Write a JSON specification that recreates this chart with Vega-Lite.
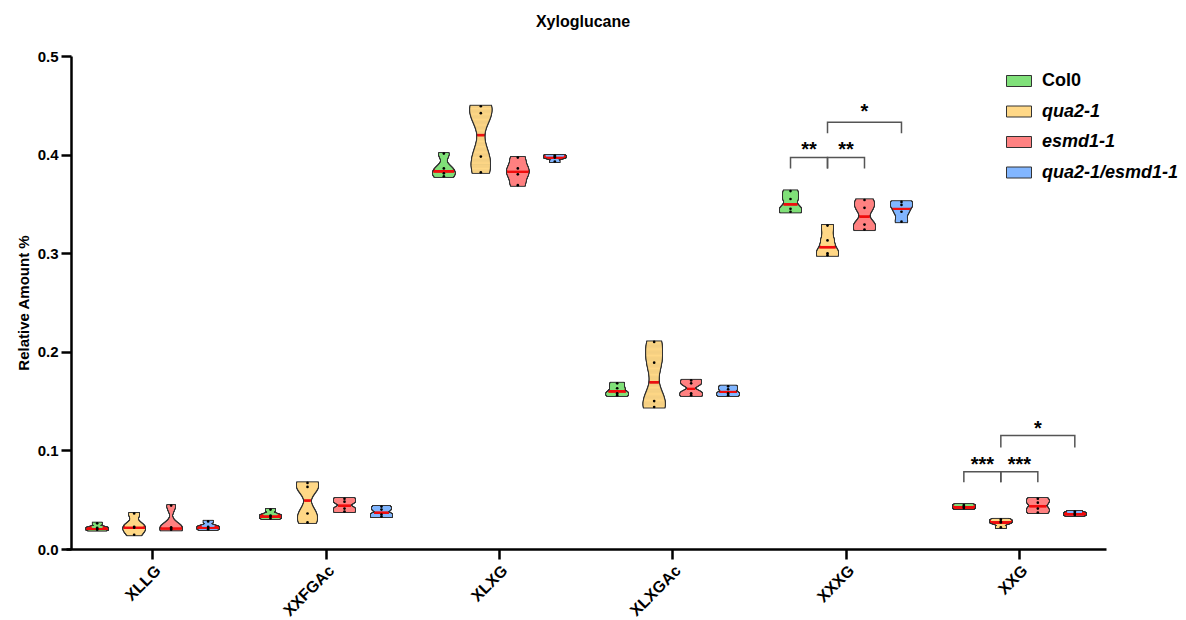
{
"$schema":"https://vega.github.io/schema/vega-lite/v6.json",
"width":1040,"height":493,
"autosize":{"type":"none"},
"padding":{"left":66,"top":56,"right":80,"bottom":71},
"config":{"font":"Liberation Sans","view":{"stroke":null}},
"title":{"text":"Xyloglucane","fontSize":16,"fontWeight":"bold","color":"black","anchor":"middle","dx":-3,"offset":19},
"datasets":{
"d":[
{"c":"XLLG","g":"Col0","v":0.0195},{"c":"XLLG","g":"Col0","v":0.0205},{"c":"XLLG","g":"Col0","v":0.0215},{"c":"XLLG","g":"Col0","v":0.026},
{"c":"XLLG","g":"qua2-1","v":0.0145},{"c":"XLLG","g":"qua2-1","v":0.0215},{"c":"XLLG","g":"qua2-1","v":0.0225},{"c":"XLLG","g":"qua2-1","v":0.036},
{"c":"XLLG","g":"esmd1-1","v":0.0195},{"c":"XLLG","g":"esmd1-1","v":0.0205},{"c":"XLLG","g":"esmd1-1","v":0.022},{"c":"XLLG","g":"esmd1-1","v":0.044},
{"c":"XLLG","g":"qua2-1/esmd1-1","v":0.020},{"c":"XLLG","g":"qua2-1/esmd1-1","v":0.0215},{"c":"XLLG","g":"qua2-1/esmd1-1","v":0.0225},{"c":"XLLG","g":"qua2-1/esmd1-1","v":0.028},
{"c":"XXFGAc","g":"Col0","v":0.031},{"c":"XXFGAc","g":"Col0","v":0.033},{"c":"XXFGAc","g":"Col0","v":0.034},{"c":"XXFGAc","g":"Col0","v":0.040},
{"c":"XXFGAc","g":"qua2-1","v":0.027},{"c":"XXFGAc","g":"qua2-1","v":0.036},{"c":"XXFGAc","g":"qua2-1","v":0.063},{"c":"XXFGAc","g":"qua2-1","v":0.067},
{"c":"XXFGAc","g":"esmd1-1","v":0.038},{"c":"XXFGAc","g":"esmd1-1","v":0.041},{"c":"XXFGAc","g":"esmd1-1","v":0.048},{"c":"XXFGAc","g":"esmd1-1","v":0.051},
{"c":"XXFGAc","g":"qua2-1/esmd1-1","v":0.033},{"c":"XXFGAc","g":"qua2-1/esmd1-1","v":0.035},{"c":"XXFGAc","g":"qua2-1/esmd1-1","v":0.040},{"c":"XXFGAc","g":"qua2-1/esmd1-1","v":0.043},
{"c":"XLXG","g":"Col0","v":0.378},{"c":"XLXG","g":"Col0","v":0.381},{"c":"XLXG","g":"Col0","v":0.386},{"c":"XLXG","g":"Col0","v":0.401},
{"c":"XLXG","g":"qua2-1","v":0.382},{"c":"XLXG","g":"qua2-1","v":0.398},{"c":"XLXG","g":"qua2-1","v":0.442},{"c":"XLXG","g":"qua2-1","v":0.449},
{"c":"XLXG","g":"esmd1-1","v":0.369},{"c":"XLXG","g":"esmd1-1","v":0.380},{"c":"XLXG","g":"esmd1-1","v":0.386},{"c":"XLXG","g":"esmd1-1","v":0.397},
{"c":"XLXG","g":"qua2-1/esmd1-1","v":0.393},{"c":"XLXG","g":"qua2-1/esmd1-1","v":0.397},{"c":"XLXG","g":"qua2-1/esmd1-1","v":0.398},{"c":"XLXG","g":"qua2-1/esmd1-1","v":0.399},
{"c":"XLXGAc","g":"Col0","v":0.156},{"c":"XLXGAc","g":"Col0","v":0.158},{"c":"XLXGAc","g":"Col0","v":0.163},{"c":"XLXGAc","g":"Col0","v":0.168},
{"c":"XLXGAc","g":"qua2-1","v":0.144},{"c":"XLXGAc","g":"qua2-1","v":0.150},{"c":"XLXGAc","g":"qua2-1","v":0.189},{"c":"XLXGAc","g":"qua2-1","v":0.210},
{"c":"XLXGAc","g":"esmd1-1","v":0.156},{"c":"XLXGAc","g":"esmd1-1","v":0.158},{"c":"XLXGAc","g":"esmd1-1","v":0.168},{"c":"XLXGAc","g":"esmd1-1","v":0.171},
{"c":"XLXGAc","g":"qua2-1/esmd1-1","v":0.156},{"c":"XLXGAc","g":"qua2-1/esmd1-1","v":0.158},{"c":"XLXGAc","g":"qua2-1/esmd1-1","v":0.162},{"c":"XLXGAc","g":"qua2-1/esmd1-1","v":0.165},
{"c":"XXXG","g":"Col0","v":0.342},{"c":"XXXG","g":"Col0","v":0.345},{"c":"XXXG","g":"Col0","v":0.355},{"c":"XXXG","g":"Col0","v":0.363},
{"c":"XXXG","g":"qua2-1","v":0.298},{"c":"XXXG","g":"qua2-1","v":0.300},{"c":"XXXG","g":"qua2-1","v":0.313},{"c":"XXXG","g":"qua2-1","v":0.328},
{"c":"XXXG","g":"esmd1-1","v":0.324},{"c":"XXXG","g":"esmd1-1","v":0.329},{"c":"XXXG","g":"esmd1-1","v":0.346},{"c":"XXXG","g":"esmd1-1","v":0.354},
{"c":"XXXG","g":"qua2-1/esmd1-1","v":0.332},{"c":"XXXG","g":"qua2-1/esmd1-1","v":0.342},{"c":"XXXG","g":"qua2-1/esmd1-1","v":0.349},{"c":"XXXG","g":"qua2-1/esmd1-1","v":0.352},
{"c":"XXG","g":"Col0","v":0.0415},{"c":"XXG","g":"Col0","v":0.0425},{"c":"XXG","g":"Col0","v":0.0435},{"c":"XXG","g":"Col0","v":0.0445},
{"c":"XXG","g":"qua2-1","v":0.022},{"c":"XXG","g":"qua2-1","v":0.027},{"c":"XXG","g":"qua2-1","v":0.028},{"c":"XXG","g":"qua2-1","v":0.030},
{"c":"XXG","g":"esmd1-1","v":0.037},{"c":"XXG","g":"esmd1-1","v":0.041},{"c":"XXG","g":"esmd1-1","v":0.047},{"c":"XXG","g":"esmd1-1","v":0.051},
{"c":"XXG","g":"qua2-1/esmd1-1","v":0.0345},{"c":"XXG","g":"qua2-1/esmd1-1","v":0.0355},{"c":"XXG","g":"qua2-1/esmd1-1","v":0.0365},{"c":"XXG","g":"qua2-1/esmd1-1","v":0.038}
],
"br":[
{"c":"XXXG","g":"Col0","v":0.386,"b":"x1","o":1},{"c":"XXXG","g":"Col0","v":0.397,"b":"x1","o":2},{"c":"XXXG","g":"qua2-1","v":0.397,"b":"x1","o":3},{"c":"XXXG","g":"qua2-1","v":0.386,"b":"x1","o":4},
{"c":"XXXG","g":"qua2-1","v":0.386,"b":"x2","o":1},{"c":"XXXG","g":"qua2-1","v":0.397,"b":"x2","o":2},{"c":"XXXG","g":"esmd1-1","v":0.397,"b":"x2","o":3},{"c":"XXXG","g":"esmd1-1","v":0.386,"b":"x2","o":4},
{"c":"XXXG","g":"qua2-1","v":0.4216,"b":"x3","o":1},{"c":"XXXG","g":"qua2-1","v":0.4328,"b":"x3","o":2},{"c":"XXXG","g":"qua2-1/esmd1-1","v":0.4328,"b":"x3","o":3},{"c":"XXXG","g":"qua2-1/esmd1-1","v":0.4216,"b":"x3","o":4},
{"c":"XXG","g":"Col0","v":0.0676,"b":"y1","o":1},{"c":"XXG","g":"Col0","v":0.0784,"b":"y1","o":2},{"c":"XXG","g":"qua2-1","v":0.0784,"b":"y1","o":3},{"c":"XXG","g":"qua2-1","v":0.0676,"b":"y1","o":4},
{"c":"XXG","g":"qua2-1","v":0.0676,"b":"y2","o":1},{"c":"XXG","g":"qua2-1","v":0.0784,"b":"y2","o":2},{"c":"XXG","g":"esmd1-1","v":0.0784,"b":"y2","o":3},{"c":"XXG","g":"esmd1-1","v":0.0676,"b":"y2","o":4},
{"c":"XXG","g":"qua2-1","v":0.103,"b":"y3","o":1},{"c":"XXG","g":"qua2-1","v":0.115,"b":"y3","o":2},{"c":"XXG","g":"qua2-1/esmd1-1","v":0.115,"b":"y3","o":3},{"c":"XXG","g":"qua2-1/esmd1-1","v":0.103,"b":"y3","o":4}
],
"ann":[
{"c":"XXXG","g":"a","v":0.3986,"t":"**"},{"c":"XXXG","g":"b","v":0.3986,"t":"**"},{"c":"XXXG","g":"esmd1-1","v":0.4376,"t":"*"},
{"c":"XXG","g":"a","v":0.0791,"t":"***"},{"c":"XXG","g":"b","v":0.0791,"t":"***"},{"c":"XXG","g":"esmd1-1","v":0.1161,"t":"*"}
]
},
"data":{"name":"d"},
"encoding":{
"x":{"field":"c","type":"nominal","scale":{"domain":["XLLG","XXFGAc","XLXG","XLXGAc","XXXG","XXG"],"paddingInner":0,"paddingOuter":0},
"axis":{"title":null,"labelAngle":-45,"labelFontSize":16,"labelFontWeight":"bold","labelColor":"black","domainColor":"black","domainWidth":2.5,"tickColor":"black","tickWidth":2.5,"tickSize":10,"labelPadding":3,"grid":false}},
"xOffset":{"field":"g","type":"nominal","scale":{"type":"point","domain":["p0","Col0","a","qua2-1","b","esmd1-1","c","qua2-1/esmd1-1","p1"],"padding":0.686}},
"y":{"field":"v","type":"quantitative","scale":{"domain":[0,0.5],"nice":false,"zero":true},
"axis":{"title":"Relative Amount %","titleFontSize":15,"titleFontWeight":"bold","titleColor":"black","titlePadding":6,"values":[0,0.1,0.2,0.3,0.4,0.5],"format":".1f","labelFontSize":15,"labelFontWeight":"bold","labelColor":"black","domainColor":"black","domainWidth":2.5,"tickColor":"black","tickWidth":2.5,"tickSize":10,"labelPadding":3,"grid":false,"offset":-5}},
"color":{"condition":{"test":"abs(datum.v-datum.med)<0.0013","value":"#f01010"},"field":"g","type":"nominal",
"scale":{"domain":["Col0","qua2-1","esmd1-1","qua2-1/esmd1-1"],"range":["#80e07a","#ffd887","#ff8282","#82b6ff"]},
"legend":{"title":null,"orient":"none","legendX":940,"legendY":12,"symbolType":"M-1,-0.44H1V0.44H-1Z","symbolSize":625,"symbolStrokeColor":"#333","symbolStrokeWidth":1,"symbolOpacity":1,"labelFontSize":18,"labelFontWeight":"bold","labelFontStyle":{"expr":"datum.label === 'Col0' ? 'normal' : 'italic'"},"labelColor":"black","labelOffset":10,"rowPadding":8.5,"padding":0}}
},
"layer":[
{"transform":[{"filter":"datum.c==='XLLG'&&datum.g==='Col0'"},{"joinaggregate":[{"op":"median","field":"v","as":"med"}]},{"density":"v","groupby":["c","g","med"],"bandwidth":0.0013,"steps":120,"as":["v","d"]}],"layer":[{"mark":{"type":"tick","thickness":3,"opacity":1},"encoding":{"color":{"value":"#333"},"size":{"field":"d","type":"quantitative","scale":{"zero":true,"range":[2,23]},"legend":null}}},{"mark":{"type":"tick","thickness":1,"opacity":1},"encoding":{"size":{"field":"d","type":"quantitative","scale":{"zero":true,"range":[0,21]},"legend":null}}}],"resolve":{"scale":{"size":"independent"}}},
{"transform":[{"filter":"datum.c==='XLLG'&&datum.g==='qua2-1'"},{"joinaggregate":[{"op":"median","field":"v","as":"med"}]},{"density":"v","groupby":["c","g","med"],"bandwidth":0.0043,"steps":120,"as":["v","d"]}],"layer":[{"mark":{"type":"tick","thickness":3,"opacity":1},"encoding":{"color":{"value":"#333"},"size":{"field":"d","type":"quantitative","scale":{"zero":true,"range":[2,23]},"legend":null}}},{"mark":{"type":"tick","thickness":1,"opacity":1},"encoding":{"size":{"field":"d","type":"quantitative","scale":{"zero":true,"range":[0,21]},"legend":null}}}],"resolve":{"scale":{"size":"independent"}}},
{"transform":[{"filter":"datum.c==='XLLG'&&datum.g==='esmd1-1'"},{"joinaggregate":[{"op":"median","field":"v","as":"med"}]},{"density":"v","groupby":["c","g","med"],"bandwidth":0.0049,"steps":120,"as":["v","d"]}],"layer":[{"mark":{"type":"tick","thickness":3,"opacity":1},"encoding":{"color":{"value":"#333"},"size":{"field":"d","type":"quantitative","scale":{"zero":true,"range":[2,23]},"legend":null}}},{"mark":{"type":"tick","thickness":1,"opacity":1},"encoding":{"size":{"field":"d","type":"quantitative","scale":{"zero":true,"range":[0,21]},"legend":null}}}],"resolve":{"scale":{"size":"independent"}}},
{"transform":[{"filter":"datum.c==='XLLG'&&datum.g==='qua2-1/esmd1-1'"},{"joinaggregate":[{"op":"median","field":"v","as":"med"}]},{"density":"v","groupby":["c","g","med"],"bandwidth":0.0016,"steps":120,"as":["v","d"]}],"layer":[{"mark":{"type":"tick","thickness":3,"opacity":1},"encoding":{"color":{"value":"#333"},"size":{"field":"d","type":"quantitative","scale":{"zero":true,"range":[2,23]},"legend":null}}},{"mark":{"type":"tick","thickness":1,"opacity":1},"encoding":{"size":{"field":"d","type":"quantitative","scale":{"zero":true,"range":[0,21]},"legend":null}}}],"resolve":{"scale":{"size":"independent"}}},
{"transform":[{"filter":"datum.c==='XXFGAc'&&datum.g==='Col0'"},{"joinaggregate":[{"op":"median","field":"v","as":"med"}]},{"density":"v","groupby":["c","g","med"],"bandwidth":0.0018,"steps":120,"as":["v","d"]}],"layer":[{"mark":{"type":"tick","thickness":3,"opacity":1},"encoding":{"color":{"value":"#333"},"size":{"field":"d","type":"quantitative","scale":{"zero":true,"range":[2,23]},"legend":null}}},{"mark":{"type":"tick","thickness":1,"opacity":1},"encoding":{"size":{"field":"d","type":"quantitative","scale":{"zero":true,"range":[0,21]},"legend":null}}}],"resolve":{"scale":{"size":"independent"}}},
{"transform":[{"filter":"datum.c==='XXFGAc'&&datum.g==='qua2-1'"},{"joinaggregate":[{"op":"median","field":"v","as":"med"}]},{"density":"v","groupby":["c","g","med"],"bandwidth":0.008,"steps":120,"as":["v","d"]}],"layer":[{"mark":{"type":"tick","thickness":3,"opacity":1},"encoding":{"color":{"value":"#333"},"size":{"field":"d","type":"quantitative","scale":{"zero":true,"range":[2,23]},"legend":null}}},{"mark":{"type":"tick","thickness":1,"opacity":1},"encoding":{"size":{"field":"d","type":"quantitative","scale":{"zero":true,"range":[0,21]},"legend":null}}}],"resolve":{"scale":{"size":"independent"}}},
{"transform":[{"filter":"datum.c==='XXFGAc'&&datum.g==='esmd1-1'"},{"joinaggregate":[{"op":"median","field":"v","as":"med"}]},{"density":"v","groupby":["c","g","med"],"bandwidth":0.0026,"steps":120,"as":["v","d"]}],"layer":[{"mark":{"type":"tick","thickness":3,"opacity":1},"encoding":{"color":{"value":"#333"},"size":{"field":"d","type":"quantitative","scale":{"zero":true,"range":[2,23]},"legend":null}}},{"mark":{"type":"tick","thickness":1,"opacity":1},"encoding":{"size":{"field":"d","type":"quantitative","scale":{"zero":true,"range":[0,21]},"legend":null}}}],"resolve":{"scale":{"size":"independent"}}},
{"transform":[{"filter":"datum.c==='XXFGAc'&&datum.g==='qua2-1/esmd1-1'"},{"joinaggregate":[{"op":"median","field":"v","as":"med"}]},{"density":"v","groupby":["c","g","med"],"bandwidth":0.002,"steps":120,"as":["v","d"]}],"layer":[{"mark":{"type":"tick","thickness":3,"opacity":1},"encoding":{"color":{"value":"#333"},"size":{"field":"d","type":"quantitative","scale":{"zero":true,"range":[2,23]},"legend":null}}},{"mark":{"type":"tick","thickness":1,"opacity":1},"encoding":{"size":{"field":"d","type":"quantitative","scale":{"zero":true,"range":[0,21]},"legend":null}}}],"resolve":{"scale":{"size":"independent"}}},
{"transform":[{"filter":"datum.c==='XLXG'&&datum.g==='Col0'"},{"joinaggregate":[{"op":"median","field":"v","as":"med"}]},{"density":"v","groupby":["c","g","med"],"bandwidth":0.0046,"steps":120,"as":["v","d"]}],"layer":[{"mark":{"type":"tick","thickness":3,"opacity":1},"encoding":{"color":{"value":"#333"},"size":{"field":"d","type":"quantitative","scale":{"zero":true,"range":[2,23]},"legend":null}}},{"mark":{"type":"tick","thickness":1,"opacity":1},"encoding":{"size":{"field":"d","type":"quantitative","scale":{"zero":true,"range":[0,21]},"legend":null}}}],"resolve":{"scale":{"size":"independent"}}},
{"transform":[{"filter":"datum.c==='XLXG'&&datum.g==='qua2-1'"},{"joinaggregate":[{"op":"median","field":"v","as":"med"}]},{"density":"v","groupby":["c","g","med"],"bandwidth":0.0134,"steps":120,"as":["v","d"]}],"layer":[{"mark":{"type":"tick","thickness":3,"opacity":1},"encoding":{"color":{"value":"#333"},"size":{"field":"d","type":"quantitative","scale":{"zero":true,"range":[2,23]},"legend":null}}},{"mark":{"type":"tick","thickness":1,"opacity":1},"encoding":{"size":{"field":"d","type":"quantitative","scale":{"zero":true,"range":[0,21]},"legend":null}}}],"resolve":{"scale":{"size":"independent"}}},
{"transform":[{"filter":"datum.c==='XLXG'&&datum.g==='esmd1-1'"},{"joinaggregate":[{"op":"median","field":"v","as":"med"}]},{"density":"v","groupby":["c","g","med"],"bandwidth":0.0056,"steps":120,"as":["v","d"]}],"layer":[{"mark":{"type":"tick","thickness":3,"opacity":1},"encoding":{"color":{"value":"#333"},"size":{"field":"d","type":"quantitative","scale":{"zero":true,"range":[2,23]},"legend":null}}},{"mark":{"type":"tick","thickness":1,"opacity":1},"encoding":{"size":{"field":"d","type":"quantitative","scale":{"zero":true,"range":[0,21]},"legend":null}}}],"resolve":{"scale":{"size":"independent"}}},
{"transform":[{"filter":"datum.c==='XLXG'&&datum.g==='qua2-1/esmd1-1'"},{"joinaggregate":[{"op":"median","field":"v","as":"med"}]},{"density":"v","groupby":["c","g","med"],"bandwidth":0.0012,"steps":120,"as":["v","d"]}],"layer":[{"mark":{"type":"tick","thickness":3,"opacity":1},"encoding":{"color":{"value":"#333"},"size":{"field":"d","type":"quantitative","scale":{"zero":true,"range":[2,23]},"legend":null}}},{"mark":{"type":"tick","thickness":1,"opacity":1},"encoding":{"size":{"field":"d","type":"quantitative","scale":{"zero":true,"range":[0,21]},"legend":null}}}],"resolve":{"scale":{"size":"independent"}}},
{"transform":[{"filter":"datum.c==='XLXGAc'&&datum.g==='Col0'"},{"joinaggregate":[{"op":"median","field":"v","as":"med"}]},{"density":"v","groupby":["c","g","med"],"bandwidth":0.0024,"steps":120,"as":["v","d"]}],"layer":[{"mark":{"type":"tick","thickness":3,"opacity":1},"encoding":{"color":{"value":"#333"},"size":{"field":"d","type":"quantitative","scale":{"zero":true,"range":[2,23]},"legend":null}}},{"mark":{"type":"tick","thickness":1,"opacity":1},"encoding":{"size":{"field":"d","type":"quantitative","scale":{"zero":true,"range":[0,21]},"legend":null}}}],"resolve":{"scale":{"size":"independent"}}},
{"transform":[{"filter":"datum.c==='XLXGAc'&&datum.g==='qua2-1'"},{"joinaggregate":[{"op":"median","field":"v","as":"med"}]},{"density":"v","groupby":["c","g","med"],"bandwidth":0.0132,"steps":120,"as":["v","d"]}],"layer":[{"mark":{"type":"tick","thickness":3,"opacity":1},"encoding":{"color":{"value":"#333"},"size":{"field":"d","type":"quantitative","scale":{"zero":true,"range":[2,23]},"legend":null}}},{"mark":{"type":"tick","thickness":1,"opacity":1},"encoding":{"size":{"field":"d","type":"quantitative","scale":{"zero":true,"range":[0,21]},"legend":null}}}],"resolve":{"scale":{"size":"independent"}}},
{"transform":[{"filter":"datum.c==='XLXGAc'&&datum.g==='esmd1-1'"},{"joinaggregate":[{"op":"median","field":"v","as":"med"}]},{"density":"v","groupby":["c","g","med"],"bandwidth":0.003,"steps":120,"as":["v","d"]}],"layer":[{"mark":{"type":"tick","thickness":3,"opacity":1},"encoding":{"color":{"value":"#333"},"size":{"field":"d","type":"quantitative","scale":{"zero":true,"range":[2,23]},"legend":null}}},{"mark":{"type":"tick","thickness":1,"opacity":1},"encoding":{"size":{"field":"d","type":"quantitative","scale":{"zero":true,"range":[0,21]},"legend":null}}}],"resolve":{"scale":{"size":"independent"}}},
{"transform":[{"filter":"datum.c==='XLXGAc'&&datum.g==='qua2-1/esmd1-1'"},{"joinaggregate":[{"op":"median","field":"v","as":"med"}]},{"density":"v","groupby":["c","g","med"],"bandwidth":0.0018,"steps":120,"as":["v","d"]}],"layer":[{"mark":{"type":"tick","thickness":3,"opacity":1},"encoding":{"color":{"value":"#333"},"size":{"field":"d","type":"quantitative","scale":{"zero":true,"range":[2,23]},"legend":null}}},{"mark":{"type":"tick","thickness":1,"opacity":1},"encoding":{"size":{"field":"d","type":"quantitative","scale":{"zero":true,"range":[0,21]},"legend":null}}}],"resolve":{"scale":{"size":"independent"}}},
{"transform":[{"filter":"datum.c==='XXXG'&&datum.g==='Col0'"},{"joinaggregate":[{"op":"median","field":"v","as":"med"}]},{"density":"v","groupby":["c","g","med"],"bandwidth":0.0042,"steps":120,"as":["v","d"]}],"layer":[{"mark":{"type":"tick","thickness":3,"opacity":1},"encoding":{"color":{"value":"#333"},"size":{"field":"d","type":"quantitative","scale":{"zero":true,"range":[2,23]},"legend":null}}},{"mark":{"type":"tick","thickness":1,"opacity":1},"encoding":{"size":{"field":"d","type":"quantitative","scale":{"zero":true,"range":[0,21]},"legend":null}}}],"resolve":{"scale":{"size":"independent"}}},
{"transform":[{"filter":"datum.c==='XXXG'&&datum.g==='qua2-1'"},{"joinaggregate":[{"op":"median","field":"v","as":"med"}]},{"density":"v","groupby":["c","g","med"],"bandwidth":0.006,"steps":120,"as":["v","d"]}],"layer":[{"mark":{"type":"tick","thickness":3,"opacity":1},"encoding":{"color":{"value":"#333"},"size":{"field":"d","type":"quantitative","scale":{"zero":true,"range":[2,23]},"legend":null}}},{"mark":{"type":"tick","thickness":1,"opacity":1},"encoding":{"size":{"field":"d","type":"quantitative","scale":{"zero":true,"range":[0,21]},"legend":null}}}],"resolve":{"scale":{"size":"independent"}}},
{"transform":[{"filter":"datum.c==='XXXG'&&datum.g==='esmd1-1'"},{"joinaggregate":[{"op":"median","field":"v","as":"med"}]},{"density":"v","groupby":["c","g","med"],"bandwidth":0.006,"steps":120,"as":["v","d"]}],"layer":[{"mark":{"type":"tick","thickness":3,"opacity":1},"encoding":{"color":{"value":"#333"},"size":{"field":"d","type":"quantitative","scale":{"zero":true,"range":[2,23]},"legend":null}}},{"mark":{"type":"tick","thickness":1,"opacity":1},"encoding":{"size":{"field":"d","type":"quantitative","scale":{"zero":true,"range":[0,21]},"legend":null}}}],"resolve":{"scale":{"size":"independent"}}},
{"transform":[{"filter":"datum.c==='XXXG'&&datum.g==='qua2-1/esmd1-1'"},{"joinaggregate":[{"op":"median","field":"v","as":"med"}]},{"density":"v","groupby":["c","g","med"],"bandwidth":0.004,"steps":120,"as":["v","d"]}],"layer":[{"mark":{"type":"tick","thickness":3,"opacity":1},"encoding":{"color":{"value":"#333"},"size":{"field":"d","type":"quantitative","scale":{"zero":true,"range":[2,23]},"legend":null}}},{"mark":{"type":"tick","thickness":1,"opacity":1},"encoding":{"size":{"field":"d","type":"quantitative","scale":{"zero":true,"range":[0,21]},"legend":null}}}],"resolve":{"scale":{"size":"independent"}}},
{"transform":[{"filter":"datum.c==='XXG'&&datum.g==='Col0'"},{"joinaggregate":[{"op":"median","field":"v","as":"med"}]},{"density":"v","groupby":["c","g","med"],"bandwidth":0.0006,"steps":120,"as":["v","d"]}],"layer":[{"mark":{"type":"tick","thickness":3,"opacity":1},"encoding":{"color":{"value":"#333"},"size":{"field":"d","type":"quantitative","scale":{"zero":true,"range":[2,23]},"legend":null}}},{"mark":{"type":"tick","thickness":1,"opacity":1},"encoding":{"size":{"field":"d","type":"quantitative","scale":{"zero":true,"range":[0,21]},"legend":null}}}],"resolve":{"scale":{"size":"independent"}}},
{"transform":[{"filter":"datum.c==='XXG'&&datum.g==='qua2-1'"},{"joinaggregate":[{"op":"median","field":"v","as":"med"}]},{"density":"v","groupby":["c","g","med"],"bandwidth":0.0016,"steps":120,"as":["v","d"]}],"layer":[{"mark":{"type":"tick","thickness":3,"opacity":1},"encoding":{"color":{"value":"#333"},"size":{"field":"d","type":"quantitative","scale":{"zero":true,"range":[2,23]},"legend":null}}},{"mark":{"type":"tick","thickness":1,"opacity":1},"encoding":{"size":{"field":"d","type":"quantitative","scale":{"zero":true,"range":[0,21]},"legend":null}}}],"resolve":{"scale":{"size":"independent"}}},
{"transform":[{"filter":"datum.c==='XXG'&&datum.g==='esmd1-1'"},{"joinaggregate":[{"op":"median","field":"v","as":"med"}]},{"density":"v","groupby":["c","g","med"],"bandwidth":0.0028,"steps":120,"as":["v","d"]}],"layer":[{"mark":{"type":"tick","thickness":3,"opacity":1},"encoding":{"color":{"value":"#333"},"size":{"field":"d","type":"quantitative","scale":{"zero":true,"range":[2,23]},"legend":null}}},{"mark":{"type":"tick","thickness":1,"opacity":1},"encoding":{"size":{"field":"d","type":"quantitative","scale":{"zero":true,"range":[0,21]},"legend":null}}}],"resolve":{"scale":{"size":"independent"}}},
{"transform":[{"filter":"datum.c==='XXG'&&datum.g==='qua2-1/esmd1-1'"},{"joinaggregate":[{"op":"median","field":"v","as":"med"}]},{"density":"v","groupby":["c","g","med"],"bandwidth":0.0007,"steps":120,"as":["v","d"]}],"layer":[{"mark":{"type":"tick","thickness":3,"opacity":1},"encoding":{"color":{"value":"#333"},"size":{"field":"d","type":"quantitative","scale":{"zero":true,"range":[2,23]},"legend":null}}},{"mark":{"type":"tick","thickness":1,"opacity":1},"encoding":{"size":{"field":"d","type":"quantitative","scale":{"zero":true,"range":[0,21]},"legend":null}}}],"resolve":{"scale":{"size":"independent"}}},
{"mark":{"type":"point","filled":true,"size":7,"opacity":1},"encoding":{"color":{"value":"#000"}}},
{"data":{"name":"br"},"mark":{"type":"line","strokeWidth":1.5,"opacity":1},"encoding":{"color":{"value":"#555"},"detail":{"field":"b"},"order":{"field":"o","type":"quantitative"}}},
{"data":{"name":"ann"},"mark":{"type":"text","fontSize":20,"fontWeight":"bold","baseline":"alphabetic","align":"center"},"encoding":{"color":{"value":"#000"},"text":{"field":"t"}}}
],
"resolve":{"scale":{"size":"independent"}}
}
